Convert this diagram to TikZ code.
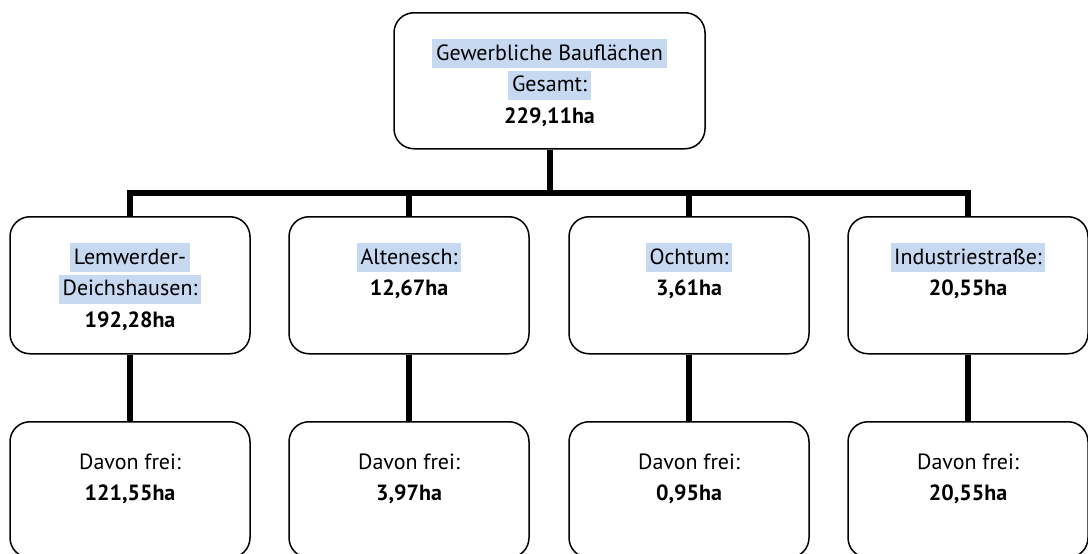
\documentclass[tikz,border=0pt]{standalone}
\usepackage{fontspec}
\setmainfont{PT Sans}
\definecolor{hl}{RGB}{198,217,241}
% one text line with a fixed strut; \hlt adds the light blue marker behind it
\newcommand{\lnx}[1]{\rule[-8pt]{0pt}{29pt}#1}
\newcommand{\hlt}[1]{{\setlength{\fboxsep}{0pt}\colorbox{hl}{\rule[-8pt]{0pt}{29pt}\,#1\,}}}
\begin{document}
\begin{tikzpicture}[x=1pt,y=-1pt,
  box/.style={draw, line width=1.5pt, rounded corners=20pt, inner sep=0pt,
    minimum width=240pt, minimum height=137pt, anchor=north},
  txt/.style={anchor=north, inner sep=0pt, align=center,
    font=\fontsize{22}{31.5}\selectfont},
  conn/.style={line width=6pt, line join=miter, line cap=butt}]
\useasboundingbox (0,0) rectangle (1088,554);
\clip (0,0) rectangle (1088,554);
\fill[white] (0,0) rectangle (1088,554);

% boxes
\node[box, minimum width=311pt, minimum height=136pt] (top) at (549.5,12) {};
\node[box] (m1) at (130,216) {};
\node[box] (m2) at (409,216) {};
\node[box] (m3) at (689,216) {};
\node[box] (m4) at (968,216) {};
\node[box, minimum height=136pt] (b1) at (130,421) {};
\node[box, minimum height=136pt] (b2) at (409,421) {};
\node[box, minimum height=136pt] (b3) at (689,421) {};
\node[box, minimum height=136pt] (b4) at (968,421) {};

% texts
\node[txt] (ttop) at ([yshift=-27pt]top.north) {\hlt{Gewerbliche Bauflächen}\\ \hlt{Gesamt:}\\ \lnx{\textbf{229,11ha}}};
\node[txt] (tm1) at ([yshift=-27pt]m1.north) {\hlt{Lemwerder-}\\ \hlt{Deichshausen:}\\ \lnx{\textbf{192,28ha}}};
\node[txt] (tm2) at ([yshift=-27pt]m2.north) {\hlt{Altenesch:}\\ \lnx{\textbf{12,67ha}}};
\node[txt] (tm3) at ([yshift=-27pt]m3.north) {\hlt{Ochtum:}\\ \lnx{\textbf{3,61ha}}};
\node[txt] (tm4) at ([yshift=-27pt]m4.north) {\hlt{Industriestraße:}\\ \lnx{\textbf{20,55ha}}};
\node[txt] (tb1) at ([yshift=-27pt]b1.north) {\lnx{Davon frei:}\\ \lnx{\textbf{121,55ha}}};
\node[txt] (tb2) at ([yshift=-27pt]b2.north) {\lnx{Davon frei:}\\ \lnx{\textbf{3,97ha}}};
\node[txt] (tb3) at ([yshift=-27pt]b3.north) {\lnx{Davon frei:}\\ \lnx{\textbf{0,95ha}}};
\node[txt] (tb4) at ([yshift=-27pt]b4.north) {\lnx{Davon frei:}\\ \lnx{\textbf{20,55ha}}};

% connectors
\coordinate (j) at (549.5,193);
\draw[conn] (top.south) -- (j);
\draw[conn] (m1.north) -- (m1.north |- j) -- (m4.north |- j) -- (m4.north);
\draw[conn] (m2.north |- j) -- (m2.north);
\draw[conn] (m3.north |- j) -- (m3.north);
\draw[conn] (m1.south) -- (b1.north);
\draw[conn] (m2.south) -- (b2.north);
\draw[conn] (m3.south) -- (b3.north);
\draw[conn] (m4.south) -- (b4.north);
\end{tikzpicture}
\end{document}
